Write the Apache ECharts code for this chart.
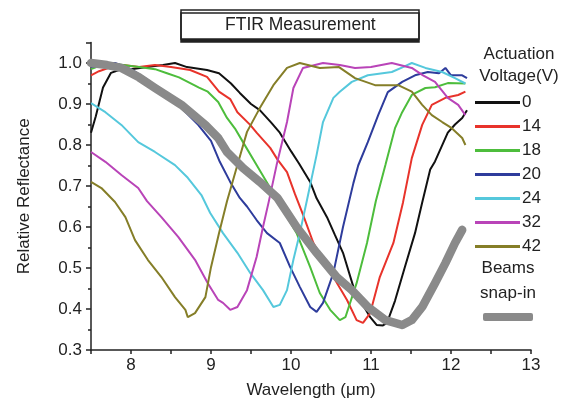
<!DOCTYPE html>
<html>
<head>
<meta charset="utf-8">
<script src="https://cdn.jsdelivr.net/npm/echarts@6/dist/echarts.min.js"></script>
<style>
html,body{margin:0;padding:0;background:#fff;}
#main{width:571px;height:406px;}
</style>
</head>
<body>
<div id="main"></div>
<script>
// voltages (V) used as legend names
var voltages = ['0', '14', '18', '20', '24', '32', '42'];
var colors = ['#111111', '#e8332b', '#4dbd3c', '#2e3c9c', '#55c8dc', '#b944b8', '#857e28'];

// [wavelength (um), relative reflectance]
var v0 = [[7.5,0.83],[7.56,0.87],[7.65,0.94],[7.75,0.976],[7.85,0.983],[8.0,0.985],[8.2,0.99],[8.4,0.995],[8.55,1.0],[8.7,0.99],[8.95,0.983],[9.1,0.975],[9.25,0.95],[9.36,0.927],[9.5,0.9],[9.61,0.885],[9.75,0.855],[9.86,0.83],[10.0,0.785],[10.1,0.755],[10.24,0.71],[10.32,0.67],[10.45,0.624],[10.55,0.58],[10.65,0.537],[10.78,0.454],[10.9,0.41],[10.99,0.38],[11.07,0.361],[11.15,0.36],[11.2,0.366],[11.3,0.42],[11.42,0.5],[11.55,0.585],[11.64,0.66],[11.74,0.74],[11.8,0.76],[11.96,0.83],[12.05,0.85],[12.14,0.866],[12.2,0.885]];
var v14 = [[7.5,0.97],[7.6,0.98],[7.75,0.99],[7.9,0.995],[8.1,0.99],[8.3,0.995],[8.5,0.99],[8.74,0.983],[8.95,0.966],[9.1,0.93],[9.24,0.912],[9.33,0.88],[9.49,0.849],[9.57,0.83],[9.74,0.793],[9.83,0.765],[9.95,0.734],[10.05,0.68],[10.15,0.63],[10.28,0.561],[10.4,0.52],[10.53,0.478],[10.7,0.422],[10.82,0.373],[10.9,0.366],[10.99,0.39],[11.11,0.478],[11.28,0.561],[11.4,0.66],[11.51,0.768],[11.64,0.849],[11.76,0.898],[11.93,0.915],[12.09,0.922],[12.18,0.93]];
var v18 = [[7.5,0.985],[7.7,1.0],[7.9,0.995],[8.1,0.99],[8.3,0.985],[8.45,0.975],[8.6,0.965],[8.71,0.954],[8.85,0.94],[8.96,0.93],[9.09,0.905],[9.2,0.866],[9.3,0.84],[9.4,0.807],[9.57,0.751],[9.74,0.695],[9.83,0.661],[9.95,0.625],[10.07,0.585],[10.24,0.502],[10.36,0.439],[10.49,0.398],[10.61,0.373],[10.68,0.38],[10.82,0.463],[10.95,0.561],[11.06,0.663],[11.18,0.751],[11.3,0.841],[11.39,0.88],[11.51,0.922],[11.68,0.939],[11.8,0.941],[11.96,0.951],[12.18,0.95]];
var v20 = [[7.5,0.99],[7.8,1.0],[8.0,0.985],[8.2,0.96],[8.4,0.93],[8.59,0.898],[8.84,0.849],[9.0,0.81],[9.11,0.759],[9.24,0.71],[9.36,0.671],[9.45,0.65],[9.57,0.617],[9.7,0.585],[9.86,0.561],[9.99,0.502],[10.11,0.454],[10.24,0.405],[10.32,0.393],[10.4,0.415],[10.53,0.488],[10.65,0.6],[10.78,0.707],[10.84,0.75],[10.96,0.807],[11.09,0.873],[11.21,0.929],[11.39,0.954],[11.55,0.97],[11.71,0.978],[11.85,0.975],[11.93,0.988],[12.0,0.97],[12.14,0.97],[12.2,0.963]];
var v24 = [[7.5,0.902],[7.68,0.88],[7.88,0.849],[8.09,0.807],[8.3,0.783],[8.55,0.751],[8.71,0.72],[8.88,0.678],[8.99,0.634],[9.15,0.585],[9.33,0.537],[9.49,0.488],[9.65,0.446],[9.78,0.405],[9.86,0.41],[9.95,0.446],[10.03,0.52],[10.11,0.585],[10.2,0.666],[10.32,0.776],[10.4,0.856],[10.53,0.915],[10.61,0.93],[10.76,0.954],[10.96,0.97],[11.26,0.978],[11.4,0.99],[11.51,1.0],[11.68,0.988],[11.89,0.978],[12.05,0.963],[12.18,0.95]];
var v32 = [[7.5,0.783],[7.68,0.759],[7.88,0.727],[8.09,0.695],[8.2,0.663],[8.38,0.624],[8.59,0.576],[8.8,0.52],[8.96,0.463],[9.09,0.422],[9.15,0.415],[9.24,0.398],[9.33,0.405],[9.45,0.446],[9.57,0.527],[9.65,0.6],[9.72,0.66],[9.82,0.751],[9.95,0.856],[10.03,0.939],[10.15,0.988],[10.4,1.0],[10.61,0.995],[10.8,0.988],[11.0,0.99],[11.26,1.0],[11.51,0.988],[11.65,0.97],[11.8,0.954],[11.96,0.915],[12.09,0.898],[12.18,0.873]];
var v42 = [[7.5,0.71],[7.63,0.695],[7.8,0.661],[7.93,0.624],[8.05,0.568],[8.21,0.52],[8.38,0.478],[8.55,0.429],[8.68,0.398],[8.71,0.38],[8.8,0.39],[8.93,0.429],[9.0,0.502],[9.1,0.585],[9.2,0.663],[9.33,0.751],[9.45,0.832],[9.61,0.89],[9.78,0.946],[9.95,0.988],[10.11,1.0],[10.36,0.988],[10.6,0.99],[10.8,0.963],[11.05,0.946],[11.34,0.946],[11.51,0.93],[11.64,0.898],[11.76,0.873],[11.89,0.856],[12.01,0.841],[12.14,0.817],[12.18,0.8]];
var snapIn = [[7.5,1.0],[7.7,0.995],[7.88,0.988],[8.1,0.965],[8.3,0.939],[8.63,0.898],[8.93,0.849],[9.09,0.817],[9.2,0.783],[9.4,0.744],[9.61,0.71],[9.83,0.671],[10.07,0.6],[10.32,0.537],[10.57,0.478],[10.76,0.446],[10.96,0.405],[11.18,0.373],[11.39,0.361],[11.51,0.373],[11.64,0.405],[11.8,0.463],[11.93,0.512],[12.05,0.561],[12.14,0.593]];

var curves = [v0, v14, v18, v20, v24, v32, v42];
var fontFam = 'Liberation Sans, Arial, sans-serif';

var chart = echarts.init(document.getElementById('main'));

var series = [];
for (var i = 0; i < curves.length; i++) {
	series.push({
		name: voltages[i],
		type: 'line',
		data: curves[i],
		symbol: 'none',
		color: colors[i],
		lineStyle: {width: 2, color: colors[i]},
		z: 2
	});
}
series.push({
	name: 'Beams snap-in',
	type: 'line',
	data: snapIn,
	symbol: 'none',
	color: '#8a8a8a',
	lineStyle: {width: 8.5, color: '#8a8a8a', cap: 'round', join: 'round'},
	z: 3
});

var option = {
	animation: false,
	backgroundColor: '#fff',
	textStyle: {fontFamily: fontFam},
	title: [
		{
			text: 'FTIR Measurement',
			left: 181,
			top: 10,
			padding: [6, 44, 5, 44],
			borderWidth: 1.5,
			borderColor: '#222',
			backgroundColor: '#fff',
			shadowColor: '#222',
			shadowOffsetX: 0,
			shadowOffsetY: 3,
			shadowBlur: 0,
			textStyle: {fontSize: 17.5, fontWeight: 'normal', color: '#222', fontFamily: fontFam}
		},
		{
			text: 'Actuation\nVoltage(V)',
			left: 519,
			top: 43,
			textAlign: 'center',
			padding: 0,
			textStyle: {fontSize: 17, fontWeight: 'normal', color: '#222', lineHeight: 22, fontFamily: fontFam}
		},
		{
			text: 'Beams\nsnap-in',
			left: 508,
			top: 256,
			textAlign: 'center',
			padding: 0,
			textStyle: {fontSize: 17, fontWeight: 'normal', color: '#222', lineHeight: 25, fontFamily: fontFam}
		}
	],
	legend: [
		{
			data: voltages,
			orient: 'vertical',
			left: 475,
			top: 94,
			padding: 0,
			icon: 'rect',
			itemWidth: 45,
			itemHeight: 3,
			itemGap: 7,
			textStyle: {fontSize: 17, color: '#222', padding: [0, 0, 0, -3], lineHeight: 16.5}
		},
		{
			data: ['Beams snap-in'],
			left: 483,
			top: 313,
			padding: 0,
			icon: 'roundRect',
			itemWidth: 50,
			itemHeight: 8,
			formatter: function () { return ''; }
		}
	],
	grid: {left: 91, right: 40, top: 42.5, bottom: 56},
	xAxis: {
		type: 'value',
		min: 7.5,
		max: 13,
		interval: 0.5,
		name: 'Wavelength (μm)',
		nameLocation: 'middle',
		nameGap: 32,
		nameTextStyle: {fontSize: 17, color: '#222'},
		axisLine: {lineStyle: {color: '#222', width: 1.5}},
		axisTick: {show: true, length: 4, lineStyle: {color: '#222', width: 1.5}},
		axisLabel: {
			fontSize: 17,
			color: '#222',
			margin: 7,
			formatter: function (v) { return (v % 1 === 0) ? String(v) : ''; }
		},
		splitLine: {show: false}
	},
	yAxis: {
		type: 'value',
		min: 0.3,
		max: 1.05,
		interval: 0.1,
		name: 'Relative Reflectance',
		nameLocation: 'middle',
		nameGap: 58,
		nameTextStyle: {fontSize: 17, color: '#222'},
		axisLine: {show: true, lineStyle: {color: '#222', width: 1.5}},
		axisTick: {show: true, length: 5, lineStyle: {color: '#222', width: 1.5}},
		minorTick: {show: true, splitNumber: 2, length: 3, lineStyle: {color: '#222', width: 1.5}},
		axisLabel: {
			fontSize: 17,
			color: '#222',
			margin: 9,
			showMaxLabel: false,
			formatter: function (v) { return v.toFixed(1); }
		},
		splitLine: {show: false}
	},
	series: series
};

chart.setOption(option);
</script>
</body>
</html>
